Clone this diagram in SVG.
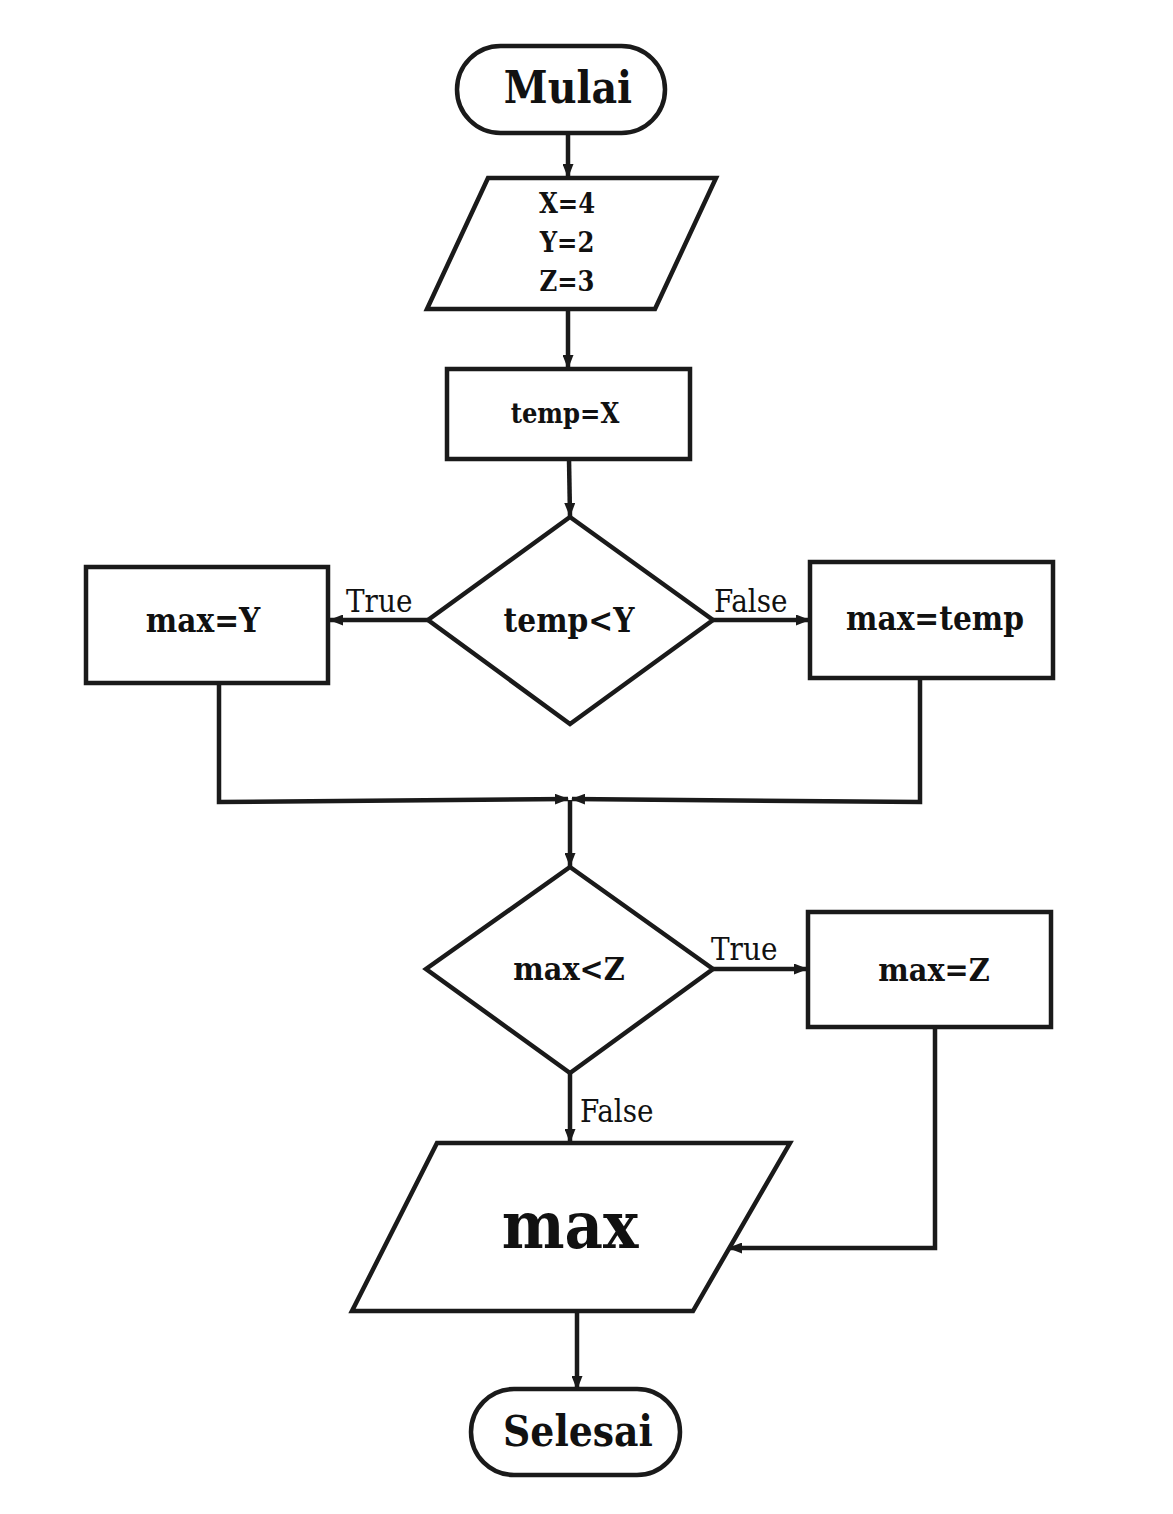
<svg xmlns="http://www.w3.org/2000/svg" width="1173" height="1514" viewBox="0 0 1173 1514">
<style>
.s{fill:#fff;stroke:#1a1a1a;stroke-width:4.5;stroke-linejoin:miter}
.c{fill:none;stroke:#1a1a1a;stroke-width:4.5}
.t{font-family:"DejaVu Serif Condensed","DejaVu Serif","Liberation Serif",serif;font-stretch:condensed;font-weight:bold;fill:#111;text-anchor:middle}
.l{font-family:"DejaVu Serif Condensed","DejaVu Serif","Liberation Serif",serif;font-stretch:condensed;fill:#111;font-size:31px}
</style>
<defs>
<marker id="a" markerWidth="14" markerHeight="11" refX="13" refY="5.5" orient="auto" markerUnits="userSpaceOnUse">
<path d="M0,0 L14,5.5 L0,11 Z" fill="#1a1a1a"/>
</marker>
</defs>
<rect width="1173" height="1514" fill="#fff"/>
<g id="connectors">
<line class="c" x1="568" y1="133" x2="568" y2="177" marker-end="url(#a)"/>
<line class="c" x1="568" y1="310" x2="568" y2="368" marker-end="url(#a)"/>
<line class="c" x1="569" y1="459" x2="570" y2="516" marker-end="url(#a)"/>
<line class="c" x1="428" y1="620" x2="330" y2="620" marker-end="url(#a)"/>
<line class="c" x1="713" y1="620" x2="809" y2="620" marker-end="url(#a)"/>
<polyline class="c" points="219,683 219,802 568,799" marker-end="url(#a)"/>
<polyline class="c" points="920,678 920,802 572,799" marker-end="url(#a)"/>
<line class="c" x1="570" y1="800" x2="570" y2="866" marker-end="url(#a)"/>
<line class="c" x1="713" y1="969" x2="807" y2="969" marker-end="url(#a)"/>
<line class="c" x1="570" y1="1073" x2="570" y2="1142" marker-end="url(#a)"/>
<polyline class="c" points="935,1027 935,1248 729,1248" marker-end="url(#a)"/>
<line class="c" x1="577" y1="1311" x2="577" y2="1389" marker-end="url(#a)"/>
<text class="l" x="346" y="612">True</text>
<text class="l" x="714" y="612">False</text>
<text class="l" x="711" y="960">True</text>
<text class="l" x="580" y="1122">False</text>
</g>
<g id="mulai">
<rect class="s" x="457" y="46" width="208" height="87" rx="43.5"/>
<text class="t" x="568" y="103" font-size="44">Mulai</text>
</g>
<g id="input">
<polygon class="s" points="488,178 716,178 655,309 427,309"/>
<text class="t" x="567" y="213" font-size="27">X=4</text>
<text class="t" x="567" y="252" font-size="27">Y=2</text>
<text class="t" x="567" y="291" font-size="27">Z=3</text>
</g>
<g id="tempX">
<rect class="s" x="447" y="369" width="243" height="90"/>
<text class="t" x="565" y="423" font-size="27">temp=X</text>
</g>
<g id="cond1">
<polygon class="s" points="570,517 713,620 570,724 428,620"/>
<text class="t" x="569" y="632" font-size="33">temp&lt;Y</text>
</g>
<g id="maxY">
<rect class="s" x="86" y="567" width="242" height="116"/>
<text class="t" x="203" y="632" font-size="33">max=Y</text>
</g>
<g id="maxTemp">
<rect class="s" x="810" y="562" width="243" height="116"/>
<text class="t" x="935" y="630" font-size="33">max=temp</text>
</g>
<g id="cond2">
<polygon class="s" points="570,867 713,969 570,1073 426,969"/>
<text class="t" x="569" y="980" font-size="32">max&lt;Z</text>
</g>
<g id="maxZ">
<rect class="s" x="808" y="912" width="243" height="115"/>
<text class="t" x="934" y="981" font-size="32">max=Z</text>
</g>
<g id="output">
<polygon class="s" points="437,1143 790,1143 693,1311 352,1311"/>
<text class="t" x="570" y="1248" font-size="66">max</text>
</g>
<g id="selesai">
<rect class="s" x="471" y="1389" width="209" height="86" rx="43"/>
<text class="t" x="578" y="1446" font-size="42">Selesai</text>
</g>
</svg>
